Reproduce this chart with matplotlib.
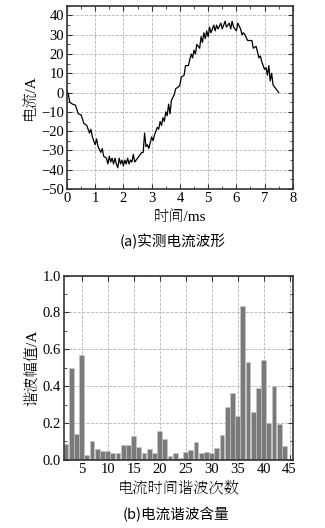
import matplotlib
matplotlib.use("Agg")
import matplotlib.pyplot as plt
from matplotlib.ticker import MultipleLocator, FormatStrFormatter

# Measured phase current (ms, A)
t_ms = [0.0, 0.05, 0.1, 0.2, 0.3, 0.4, 0.5, 0.6, 0.7, 0.8, 0.85, 0.9, 1.0, 1.05,
        1.1, 1.2, 1.25, 1.3, 1.4, 1.45, 1.5, 1.55, 1.6, 1.65, 1.7, 1.75, 1.8,
        1.85, 1.9, 1.95, 2.0, 2.05, 2.1, 2.15, 2.2, 2.25, 2.3, 2.35, 2.4, 2.5,
        2.6, 2.65, 2.7, 2.75, 2.8, 2.85, 2.9, 3.0, 3.05, 3.1, 3.2, 3.25, 3.3,
        3.35, 3.4, 3.45, 3.5, 3.55, 3.6, 3.65, 3.7, 3.8, 3.85, 3.95, 4.0, 4.05,
        4.15, 4.2, 4.3, 4.4, 4.45, 4.5, 4.55, 4.6, 4.7, 4.75, 4.8, 4.85, 4.9,
        4.95, 5.0, 5.05, 5.1, 5.2, 5.25, 5.3, 5.35, 5.45, 5.5, 5.6, 5.65, 5.75,
        5.8, 5.85, 5.9, 6.0, 6.05, 6.15, 6.2, 6.25, 6.3, 6.4, 6.55, 6.6, 6.7,
        6.8, 6.85, 6.9, 7.0, 7.05, 7.1, 7.15, 7.2, 7.25, 7.3, 7.4, 7.5]
i_amp = [1, -1, -5, -6, -6.5, -11, -11.5, -16, -17, -21, -19, -23, -27, -24,
         -28, -31, -29, -33, -34, -37, -33, -36, -34, -37, -34, -37, -39,
         -34, -37, -35, -38, -35, -37, -34, -37, -35, -36, -32, -36, -34,
         -32, -31, -31, -21, -28, -27, -29, -23, -25, -22, -18, -19, -15,
         -17, -13, -15, -10, -12, -6, -11, -4, -1, 2, 3, 4, 8,
         9, 14, 14, 20, 18, 22, 20, 25, 23, 29, 26, 31, 28,
         32, 29, 34, 31, 35, 32, 35, 33, 36, 33, 37, 34, 36,
         33, 37, 34, 32, 36, 33, 30, 31, 30, 27, 27, 23, 24,
         18, 19, 16, 12, 13, 9, 14, 6, 10, 4, 2, 0]

# Harmonic spectrum of the current
orders = list(range(2, 45))
amps = [0.085, 0.50, 0.14, 0.57, 0.025, 0.10, 0.06, 0.05, 0.05, 0.04,
        0.04, 0.08, 0.08, 0.13, 0.07, 0.04, 0.06, 0.04, 0.155, 0.115,
        0.02, 0.04, 0.008, 0.045, 0.055, 0.095, 0.035, 0.045, 0.04, 0.065,
        0.135, 0.285, 0.365, 0.24, 0.835, 0.53, 0.26, 0.39, 0.54, 0.20,
        0.40, 0.195, 0.075]

SERIF = ["Liberation Serif", "DejaVu Serif"]
LABEL = ["Liberation Serif", "Noto Serif SC", "Noto Sans CJK SC"]
CAPTION = ["Noto Sans CJK SC", "DejaVu Sans"]
plt.rcParams["font.family"] = SERIF
plt.rcParams["axes.unicode_minus"] = True

fig = plt.figure(figsize=(3.25, 5.28), dpi=100)


def style_axes(ax):
    for s in ax.spines.values():
        s.set_color("#333333")
        s.set_linewidth(1.2)
    ax.tick_params(which="both", direction="in", top=True, right=True,
                   color="#333333", labelsize=10.5, pad=2)
    ax.tick_params(which="major", length=3.5, width=0.8)
    ax.tick_params(which="minor", length=2, width=0.6)
    ax.grid(True, which="major", linestyle="--", color="#b4b4b4", linewidth=0.6)
    ax.set_axisbelow(True)


# (a) waveform
ax1 = fig.add_axes([0.206, 0.642, 0.695, 0.347])
ax1.plot(t_ms, i_amp, color="black", linewidth=0.9)
ax1.set_xlim(0, 8)
ax1.set_ylim(-50, 45)
ax1.xaxis.set_major_locator(MultipleLocator(1))
ax1.xaxis.set_minor_locator(MultipleLocator(0.5))
ax1.yaxis.set_major_locator(MultipleLocator(10))
ax1.yaxis.set_minor_locator(MultipleLocator(5))
style_axes(ax1)
ax1.set_xlabel("时间/ms", family=LABEL, fontsize=11, labelpad=4)
ax1.set_ylabel("电流/A", family=LABEL, fontsize=11, labelpad=3)
fig.text(0.53, 1 - 241 / 528, "(a)实测电流波形", family=CAPTION, fontsize=10.5,
         ha="center", va="center")

# (b) harmonic spectrum
ax2 = fig.add_axes([0.197, 0.129, 0.705, 0.349])
ax2.bar(orders, amps, width=0.92, color="#7a7a7a", edgecolor="#c8c8c8",
        linewidth=0.4)
ax2.set_xlim(1.6, 45.7)
ax2.set_ylim(0, 1.0)
ax2.xaxis.set_major_locator(MultipleLocator(5))
ax2.yaxis.set_major_locator(MultipleLocator(0.2))
ax2.yaxis.set_minor_locator(MultipleLocator(0.1))
ax2.yaxis.set_major_formatter(FormatStrFormatter("%.1f"))
style_axes(ax2)
ax2.set_xlim(1.6, 45.7)
ax2.set_xlabel("电流时间谐波次数", family=LABEL, fontsize=11, labelpad=4)
ax2.set_ylabel("谐波幅值/A", family=LABEL, fontsize=11, labelpad=3)
fig.text(0.54, 1 - 514 / 528, "(b)电流谐波含量", family=CAPTION, fontsize=10.5,
         ha="center", va="center")

fig.savefig("out.png", dpi=100)
